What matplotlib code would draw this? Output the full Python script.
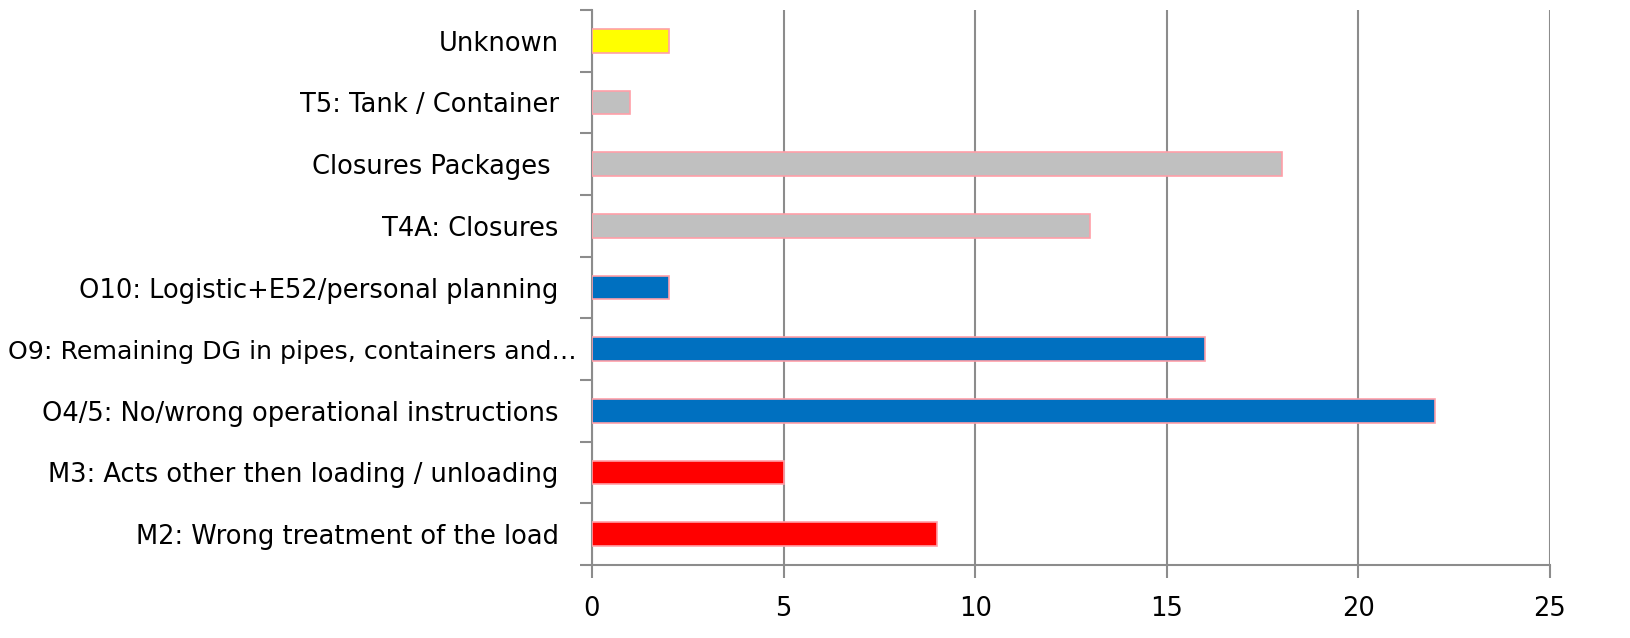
import numpy as np
import matplotlib
matplotlib.use('Agg')
import matplotlib.pyplot as plt
from matplotlib.ticker import FixedLocator
from matplotlib.transforms import ScaledTranslation

categories = [
    'M2: Wrong treatment of the load',
    'M3: Acts other then loading / unloading',
    'O4/5: No/wrong operational instructions',
    'O9: Remaining DG in pipes, containers and\u2026',
    'O10: Logistic+E52/personal planning',
    'T4A: Closures',
    'Closures Packages ',
    'T5: Tank / Container',
    'Unknown',
]
values = [9, 5, 22, 16, 2, 13, 18, 1, 2]
colors = ['#ff0000', '#ff0000', '#0070c0', '#0070c0', '#0070c0',
          '#c0c0c0', '#c0c0c0', '#c0c0c0', '#ffff00']


def main():
    fig = plt.figure(figsize=(16.31, 6.38), dpi=100)
    ax = fig.add_axes([592 / 1631, 1 - 565 / 638, (1550 - 592) / 1631, (565 - 10) / 638])

    y = np.arange(len(categories))
    ax.barh(y, values, height=0.38, color=colors, edgecolor='#ff9fa8',
            linewidth=1.2, zorder=3)

    ax.set_xlim(0, 25)
    ax.set_ylim(-0.5, len(categories) - 0.5)
    ax.set_xticks(range(0, 26, 5))
    ax.set_yticks(y)
    ax.set_yticklabels(categories)
    ax.yaxis.set_minor_locator(FixedLocator(np.arange(-0.5, len(categories), 1)))

    ax.xaxis.grid(True, color='#8c8c8c', linewidth=1.5, zorder=0)
    for side in ['top', 'right']:
        ax.spines[side].set_visible(False)
    for side in ['left', 'bottom']:
        ax.spines[side].set_color('#8c8c8c')
        ax.spines[side].set_linewidth(1.5)

    ax.tick_params(axis='y', which='major', length=0, pad=24, labelsize=18.5)
    ax.tick_params(axis='y', which='minor', length=9, width=1.5, color='#8c8c8c')
    ax.tick_params(axis='x', which='major', length=9, width=1.5, color='#8c8c8c',
                   labelsize=18.5, pad=13)

    # the truncated label sits closer to the axis, like in the original
    lbl = ax.get_yticklabels()[3]
    lbl.set_fontsize(18.2)
    lbl.set_transform(lbl.get_transform() + ScaledTranslation(0.18, 0, fig.dpi_scale_trans))

    plt.savefig('out.png', dpi=100)


if __name__ == "__main__":
    main()
